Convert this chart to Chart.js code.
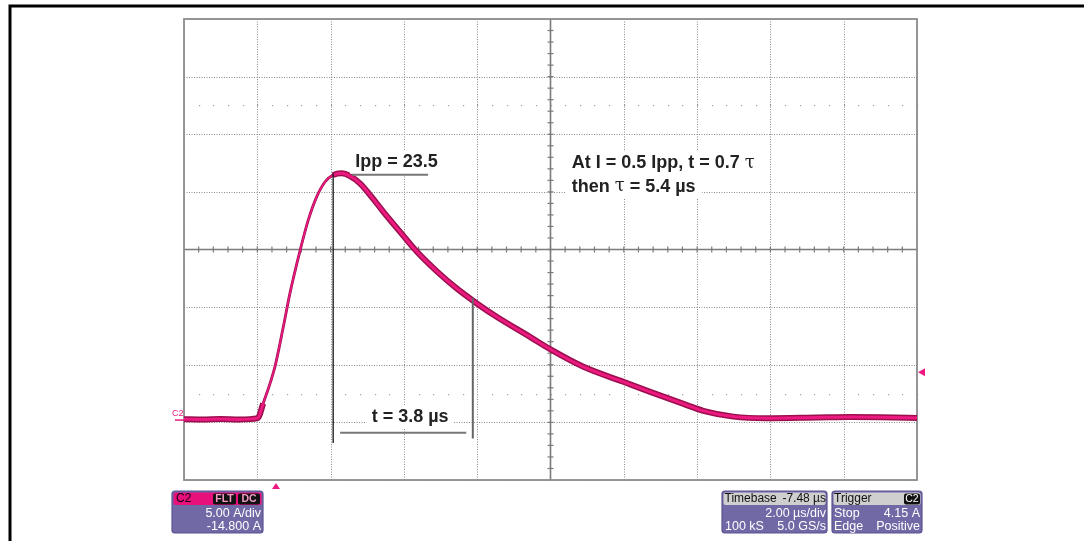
<!DOCTYPE html>
<html>
<head>
<meta charset="utf-8">
<script src="https://cdn.jsdelivr.net/npm/chart.js@4.4.0/dist/chart.umd.min.js"></script>
<style>
  html, body { margin: 0; padding: 0; background: #ffffff; }
  #wrap { width: 1084px; height: 541px; position: relative; }
</style>
</head>
<body>
<div id="wrap"><canvas id="c" width="1084" height="541"></canvas></div>
<script>
// ---- Data (time in µs across the 10-division screen, current in A) ----
const timeUs   = [0, 0.5, 1.0, 1.5, 2.01, 2.16, 2.48, 2.71, 2.89, 3.17, 3.39, 3.62, 3.85, 4.07, 4.30, 4.53, 4.80, 5.08, 5.44, 5.89, 6.35, 6.90, 7.44, 7.99, 8.53, 9.44, 9.99, 10.90, 11.99, 12.72, 13.63, 14.17, 14.99, 15.90, 17.27, 18.17, 20.0];
const currentA = [0.08, 0.05, 0.1, 0.05, 0.17, 1.44, 4.62, 8.09, 10.99, 14.75, 17.35, 19.37, 20.68, 21.26, 21.41, 21.17, 20.54, 19.52, 18.07, 16.35, 14.62, 12.90, 11.42, 10.12, 8.96, 7.22, 6.15, 4.62, 3.32, 2.45, 1.40, 0.80, 0.30, 0.16, 0.22, 0.26, 0.19];

// screen divisions: 2.00 µs/div horizontally, 5.00 A/div vertically (offset -14.800 A)
const xDivisions = [0, 2, 4, 6, 8, 10, 12, 14, 16, 18, 20];
const yDivisions = [-5.2, -0.2, 4.8, 9.8, 14.8, 19.8, 24.8, 29.8, 34.8];
const xCenter = 10, yCenter = 14.8;
const xMinor = 0.4, yMinor = 1.0;
const yDotRows = [2.3, 27.3];

// annotation values (data units)
const peakTime = 4.07, peakLineTop = 21.4, peakLineBottom = -2.0;
const halfTime = 7.88, halfLineTop = 10.6, halfLineBottom = -1.6;
const ippLabel = { text: "Ipp = 23.5", x: 4.67, y: 22.4, lineX0: 4.58, lineX1: 6.66, lineY: 21.28 };
const tLabel   = { text: "t = 3.8 µs", x: 5.12, y: 0.28, lineX0: 4.26, lineX1: 7.70, lineY: -1.11 };
const noteLines = [
  { text: "At I = 0.5 Ipp, t = 0.7 ", tau: "τ", x: 10.58, y: 22.27 },
  { text: "then ", tau: "τ", rest: " = 5.4 µs", x: 10.58, y: 20.24 }
];
const triggerLevelA = 4.15, triggerTimeUs = 2.51, groundA = 0;

// info box texts
const chText = ["C2", "5.00 A/div", "-14.800 A"];
const tbText = ["Timebase", "-7.48 µs", "2.00 µs/div", "100 kS", "5.0 GS/s"];
const trText = ["Trigger", "C2", "Stop", "4.15 A", "Edge", "Positive"];

const PINK = "#EC1A80", DARK = "#9A0F4C", GRID = "#8a8a8a";

const points = timeUs.map((t, i) => ({ x: t, y: currentA[i] }));

function wide(ctx, thick, thin) {
  const x = ctx.p0.parsed.x;
  return (x >= 2.05 && x < 3.9) ? thin : thick;
}

const scopePlugin = {
  id: 'scope',
  beforeDatasetsDraw(chart) {
    const { ctx, chartArea: a, scales: { x, y } } = chart;
    ctx.save();
    ctx.fillStyle = '#ffffff';
    ctx.fillRect(a.left, a.top, a.right - a.left, a.bottom - a.top);
    ctx.strokeStyle = GRID; ctx.lineWidth = 1; ctx.setLineDash([1, 1.5]);
    xDivisions.forEach(v => {
      if (v === xCenter) return;
      const px = Math.round(x.getPixelForValue(v)) + 0.5;
      ctx.beginPath(); ctx.moveTo(px, a.top); ctx.lineTo(px, a.bottom); ctx.stroke();
    });
    yDivisions.forEach(v => {
      if (v === yCenter) return;
      const py = Math.round(y.getPixelForValue(v)) + 0.5;
      ctx.beginPath(); ctx.moveTo(a.left, py); ctx.lineTo(a.right, py); ctx.stroke();
    });
    ctx.setLineDash([]);
    ctx.fillStyle = '#a0a0a0';
    yDotRows.forEach(v => {
      const py = Math.round(y.getPixelForValue(v));
      for (let t = xMinor; t < 20; t += xMinor) {
        const px = Math.round(x.getPixelForValue(t));
        ctx.fillRect(px, py, 1.2, 1.2);
      }
    });
    const cx = x.getPixelForValue(xCenter), cy = y.getPixelForValue(yCenter);
    ctx.strokeStyle = '#7a7a7a'; ctx.lineWidth = 1.6;
    ctx.beginPath(); ctx.moveTo(a.left, cy); ctx.lineTo(a.right, cy); ctx.stroke();
    ctx.beginPath(); ctx.moveTo(cx, a.top); ctx.lineTo(cx, a.bottom); ctx.stroke();
    ctx.lineWidth = 1.2;
    for (let t = xMinor; t < 20 - 1e-6; t += xMinor) {
      const px = x.getPixelForValue(t);
      ctx.beginPath(); ctx.moveTo(px, cy - 3); ctx.lineTo(px, cy + 3); ctx.stroke();
    }
    for (let v = -5.2 + yMinor; v < 34.8 - 1e-6; v += yMinor) {
      const py = y.getPixelForValue(v);
      ctx.beginPath(); ctx.moveTo(cx - 3, py); ctx.lineTo(cx + 3, py); ctx.stroke();
    }
    ctx.strokeStyle = '#8c8c8c'; ctx.lineWidth = 1.8;
    ctx.strokeRect(a.left, a.top, a.right - a.left, a.bottom - a.top);
    ctx.restore();
  },
  afterDatasetsDraw(chart) {
    const { ctx, chartArea: a, scales: { x, y } } = chart;
    ctx.save();
    const bold = 'bold 18px "Liberation Sans", Arial, sans-serif';
    function labelBox(txt, px, py) {
      ctx.font = bold;
      const w = ctx.measureText(txt).width;
      ctx.fillStyle = '#ffffff';
      ctx.fillRect(px - 5, py - 12, w + 10, 24);
      return w;
    }
    let px = x.getPixelForValue(ippLabel.x), py = y.getPixelForValue(ippLabel.y);
    labelBox(ippLabel.text, px, py);
    ctx.fillStyle = '#222'; ctx.textBaseline = 'middle'; ctx.font = bold;
    ctx.fillText(ippLabel.text, px, py);
    ctx.strokeStyle = '#777'; ctx.lineWidth = 2;
    ctx.beginPath();
    ctx.moveTo(x.getPixelForValue(ippLabel.lineX0), y.getPixelForValue(ippLabel.lineY));
    ctx.lineTo(x.getPixelForValue(ippLabel.lineX1), y.getPixelForValue(ippLabel.lineY));
    ctx.stroke();
    px = x.getPixelForValue(tLabel.x); py = y.getPixelForValue(tLabel.y);
    labelBox(tLabel.text, px, py);
    ctx.fillStyle = '#222'; ctx.font = bold;
    ctx.fillText(tLabel.text, px, py);
    ctx.strokeStyle = '#777'; ctx.lineWidth = 2;
    ctx.beginPath();
    ctx.moveTo(x.getPixelForValue(tLabel.lineX0), y.getPixelForValue(tLabel.lineY));
    ctx.lineTo(x.getPixelForValue(tLabel.lineX1), y.getPixelForValue(tLabel.lineY));
    ctx.stroke();
    noteLines.forEach(n => {
      const nx = x.getPixelForValue(n.x), ny = y.getPixelForValue(n.y);
      ctx.font = bold;
      const w1 = ctx.measureText(n.text).width;
      ctx.font = '18px "DejaVu Serif", serif';
      const wt = ctx.measureText(n.tau).width;
      ctx.font = bold;
      const w2 = n.rest ? ctx.measureText(n.rest).width : 0;
      ctx.fillStyle = '#fff';
      ctx.fillRect(nx - 6, ny - 12, w1 + wt + w2 + 12, 24);
      ctx.fillStyle = '#222';
      ctx.fillText(n.text, nx, ny);
      ctx.font = '18px "DejaVu Serif", serif';
      ctx.fillText(n.tau, nx + w1, ny);
      if (n.rest) { ctx.font = bold; ctx.fillText(n.rest, nx + w1 + wt, ny); }
    });
    ctx.strokeStyle = '#111'; ctx.lineWidth = 1.3;
    let vx = x.getPixelForValue(peakTime);
    ctx.beginPath(); ctx.moveTo(vx, y.getPixelForValue(peakLineTop)); ctx.lineTo(vx, y.getPixelForValue(peakLineBottom)); ctx.stroke();
    ctx.strokeStyle = '#666'; ctx.lineWidth = 2;
    vx = x.getPixelForValue(halfTime);
    ctx.beginPath(); ctx.moveTo(vx, y.getPixelForValue(halfLineTop)); ctx.lineTo(vx, y.getPixelForValue(halfLineBottom)); ctx.stroke();

    const gy = y.getPixelForValue(groundA);
    ctx.strokeStyle = PINK; ctx.lineWidth = 1.5;
    ctx.beginPath(); ctx.moveTo(a.left - 9, gy); ctx.lineTo(a.left, gy); ctx.stroke();
    ctx.fillStyle = PINK; ctx.font = '9px "Liberation Sans", Arial, sans-serif';
    ctx.textBaseline = 'alphabetic';
    ctx.fillText('C2', a.left - 12, gy - 4);
    const ty = y.getPixelForValue(triggerLevelA);
    ctx.beginPath(); ctx.moveTo(a.right + 1, ty); ctx.lineTo(a.right + 8, ty - 4); ctx.lineTo(a.right + 8, ty + 4); ctx.closePath(); ctx.fill();
    const tx = x.getPixelForValue(triggerTimeUs);
    ctx.beginPath(); ctx.moveTo(tx, a.bottom + 3); ctx.lineTo(tx - 4, a.bottom + 9); ctx.lineTo(tx + 4, a.bottom + 9); ctx.closePath(); ctx.fill();

    const PURPLE = '#7168A6', PBORDER = '#5b5390';
    const small = '12.5px "Liberation Sans", Arial, sans-serif';
    const head = '12px "Liberation Sans", Arial, sans-serif';
    function panel(x0, x1, headColor) {
      const y0 = a.bottom + 11, y1 = a.bottom + 53;
      ctx.fillStyle = PURPLE; ctx.strokeStyle = PBORDER; ctx.lineWidth = 1.2;
      ctx.beginPath(); ctx.roundRect(x0, y0, x1 - x0, y1 - y0, 3); ctx.fill(); ctx.stroke();
      ctx.fillStyle = headColor;
      ctx.beginPath(); ctx.roundRect(x0 + 1.5, y0 + 1.5, x1 - x0 - 3, 12.5, 2); ctx.fill();
      return y0;
    }
    ctx.textBaseline = 'middle';
    let y0 = panel(a.left - 12, a.left + 79, '#E8117C');
    ctx.font = head; ctx.fillStyle = '#1a0010'; ctx.textAlign = 'left';
    ctx.fillText(chText[0], a.left - 8, y0 + 8);
    ctx.fillStyle = '#111';
    ctx.beginPath(); ctx.roundRect(a.left + 29, y0 + 2.5, 23, 11, 2); ctx.fill();
    ctx.beginPath(); ctx.roundRect(a.left + 54, y0 + 2.5, 22, 11, 2); ctx.fill();
    ctx.fillStyle = '#f39ac4'; ctx.font = 'bold 10.5px "Liberation Sans", Arial, sans-serif'; ctx.textAlign = 'center';
    ctx.fillText('FLT', a.left + 40.5, y0 + 8.5);
    ctx.fillText('DC', a.left + 65, y0 + 8.5);
    ctx.font = small; ctx.fillStyle = '#ffffff'; ctx.textAlign = 'right';
    ctx.fillText(chText[1], a.left + 77, y0 + 22.5);
    ctx.fillText(chText[2], a.left + 77, y0 + 35.5);
    y0 = panel(722, 827, '#cfcfcf');
    ctx.font = head; ctx.fillStyle = '#111'; ctx.textAlign = 'left';
    ctx.fillText(tbText[0], 724.5, y0 + 8);
    ctx.textAlign = 'right'; ctx.fillText(tbText[1], 826, y0 + 8);
    ctx.font = small; ctx.fillStyle = '#fff';
    ctx.fillText(tbText[2], 826, y0 + 22.5);
    ctx.textAlign = 'left'; ctx.fillText(tbText[3], 725, y0 + 35.5);
    ctx.textAlign = 'right'; ctx.fillText(tbText[4], 826, y0 + 35.5);
    y0 = panel(832, 922, '#cfcfcf');
    ctx.font = head; ctx.fillStyle = '#111'; ctx.textAlign = 'left';
    ctx.fillText(trText[0], 834, y0 + 8);
    ctx.beginPath(); ctx.roundRect(904, y0 + 2.5, 16, 11, 2); ctx.fill();
    ctx.fillStyle = '#fff'; ctx.textAlign = 'center'; ctx.font = '10.5px "Liberation Sans", Arial, sans-serif';
    ctx.fillText(trText[1], 912, y0 + 8.5);
    ctx.font = small;
    ctx.textAlign = 'left'; ctx.fillText(trText[2], 834, y0 + 22.5);
    ctx.textAlign = 'right'; ctx.fillText(trText[3], 920, y0 + 22.5);
    ctx.textAlign = 'left'; ctx.fillText(trText[4], 834, y0 + 35.5);
    ctx.textAlign = 'right'; ctx.fillText(trText[5], 920, y0 + 35.5);

    ctx.strokeStyle = '#000'; ctx.lineWidth = 3;
    ctx.beginPath(); ctx.moveTo(10, 560); ctx.lineTo(10, 6); ctx.lineTo(1090, 6); ctx.stroke();
    ctx.restore();
  }
};

new Chart(document.getElementById('c'), {
  type: 'line',
  data: {
    datasets: [
      {
        data: points,
        borderColor: DARK,
        borderWidth: 6,
        pointRadius: 0,
        cubicInterpolationMode: 'monotone',
        segment: { borderWidth: ctx => wide(ctx, 6, 2.8) },
        order: 2
      },
      {
        data: points,
        borderColor: PINK,
        borderWidth: 3,
        pointRadius: 0,
        cubicInterpolationMode: 'monotone',
        segment: { borderWidth: ctx => wide(ctx, 3, 1.6) },
        order: 1
      }
    ]
  },
  options: {
    responsive: false,
    animation: false,
    devicePixelRatio: 1,
    layout: { padding: { left: 184, top: 19, right: 167, bottom: 61 } },
    plugins: { legend: { display: false }, tooltip: { enabled: false } },
    scales: {
      x: { type: 'linear', min: 0, max: 20, display: false },
      y: { type: 'linear', min: -5.2, max: 34.8, display: false }
    }
  },
  plugins: [scopePlugin]
});
</script>
</body>
</html>
